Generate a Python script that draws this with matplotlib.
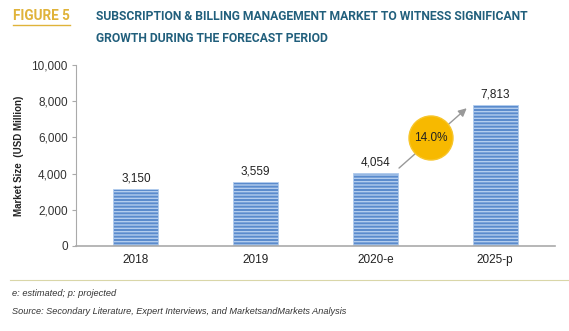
import numpy as np
import matplotlib.pyplot as plt
from matplotlib.patches import Circle

years = ["2018", "2019", "2020-e", "2025-p"]
market = [3150, 3559, 4054, 7813]
cagr_text = "14.0%"
yticks = [0, 2000, 4000, 6000, 8000, 10000]

plt.rcParams["font.family"] = ["Liberation Sans", "DejaVu Sans"]
W, H = 569, 331
fig = plt.figure(figsize=(W / 100, H / 100), dpi=100)
fig.patch.set_facecolor("white")

# axes: x 76..555 px, y 65..246 px
ax = fig.add_axes([76 / W, 1 - 246 / H, (555 - 76) / W, (246 - 65) / H])
x = np.arange(len(years))
plt.rcParams["hatch.linewidth"] = 1.0
plt.rcParams["hatch.color"] = "#b3cdee"
bars = ax.bar(x, market, width=0.375, color="#5a8bcd", edgecolor="#b3cdee",
              linewidth=0.6, hatch="-----")
for xi, v in zip(x, market):
    ax.text(xi, v + 250, f"{v:,}", ha="center", va="bottom", fontsize=8.5,
            color="#222222")

ax.set_xlim(-0.5, len(years) - 0.5)
ax.set_ylim(0, 10000)
ax.set_yticks(yticks)
ax.set_yticklabels([f"{t:,}" for t in yticks], fontsize=8.5, color="#333333")
ax.set_xticks(x)
ax.set_xticklabels(years, fontsize=8.5, color="#222222")
ax.tick_params(axis="x", length=0, pad=6)
ax.tick_params(axis="y", length=3, color="#aaaaaa", pad=3)
for s in ["top", "right"]:
    ax.spines[s].set_visible(False)
ax.spines["left"].set_color("#aaaaaa")
ax.spines["bottom"].set_color("#aaaaaa")
ax.spines["bottom"].set_linewidth(1.2)
ax.set_ylabel("Market Size  (USD Million)", fontsize=7, fontweight="bold",
              color="#222222", labelpad=5)

# growth arrow from 2020-e bar to 2025-p bar
ax.annotate("", xy=(2.78, market[3] - 100), xytext=(2.18, market[2] + 150),
            arrowprops=dict(arrowstyle="-|>", color="#999999", lw=1.0,
                            mutation_scale=12))
fig.patches.append(Circle((431, H - 138), 22, transform=None,
                          facecolor="#f7b900", edgecolor="#f7c52a", zorder=5))
fig.text(431 / W, 1 - 138 / H, cagr_text, ha="center", va="center",
         fontsize=8.5, color="#222222", zorder=6)


def fit_text(xpx, ypx, s, width_px, size, **kw):
    # shrink the font until the text spans the wanted width
    t = fig.text(xpx / W, 1 - ypx / H, s, fontsize=size, va="center", **kw)
    r = fig.canvas.get_renderer()
    w = t.get_window_extent(r).width
    t.set_fontsize(size * width_px / w)
    return t


hfont = ["Roboto", "DejaVu Sans"]
# header
fit_text(13, 16, "FIGURE 5", 57, 11, fontweight="bold", color="#e0b33a",
         family=hfont)
fig.add_artist(plt.Line2D([13 / W, 70 / W], [1 - 25 / H, 1 - 25 / H],
                          color="#e0b33a", lw=1))
fit_text(96, 16,
         "SUBSCRIPTION & BILLING MANAGEMENT MARKET TO WITNESS SIGNIFICANT",
         434, 11, fontweight="bold", color="#215f7c", family=hfont)
fit_text(96, 38, "GROWTH DURING THE FORECAST PERIOD", 234, 11,
         fontweight="bold", color="#215f7c", family=hfont)

# footer
fig.add_artist(plt.Line2D([10 / W, 1], [1 - 280 / H, 1 - 280 / H],
                          color="#d9d6a8", lw=0.8))
fit_text(12, 293, "e: estimated; p: projected", 104, 7,
         style="italic", color="#333333")
fit_text(12, 311,
         "Source: Secondary Literature, Expert Interviews, and MarketsandMarkets Analysis",
         333, 7, style="italic", color="#333333")

fig.savefig("out.png", dpi=100)
